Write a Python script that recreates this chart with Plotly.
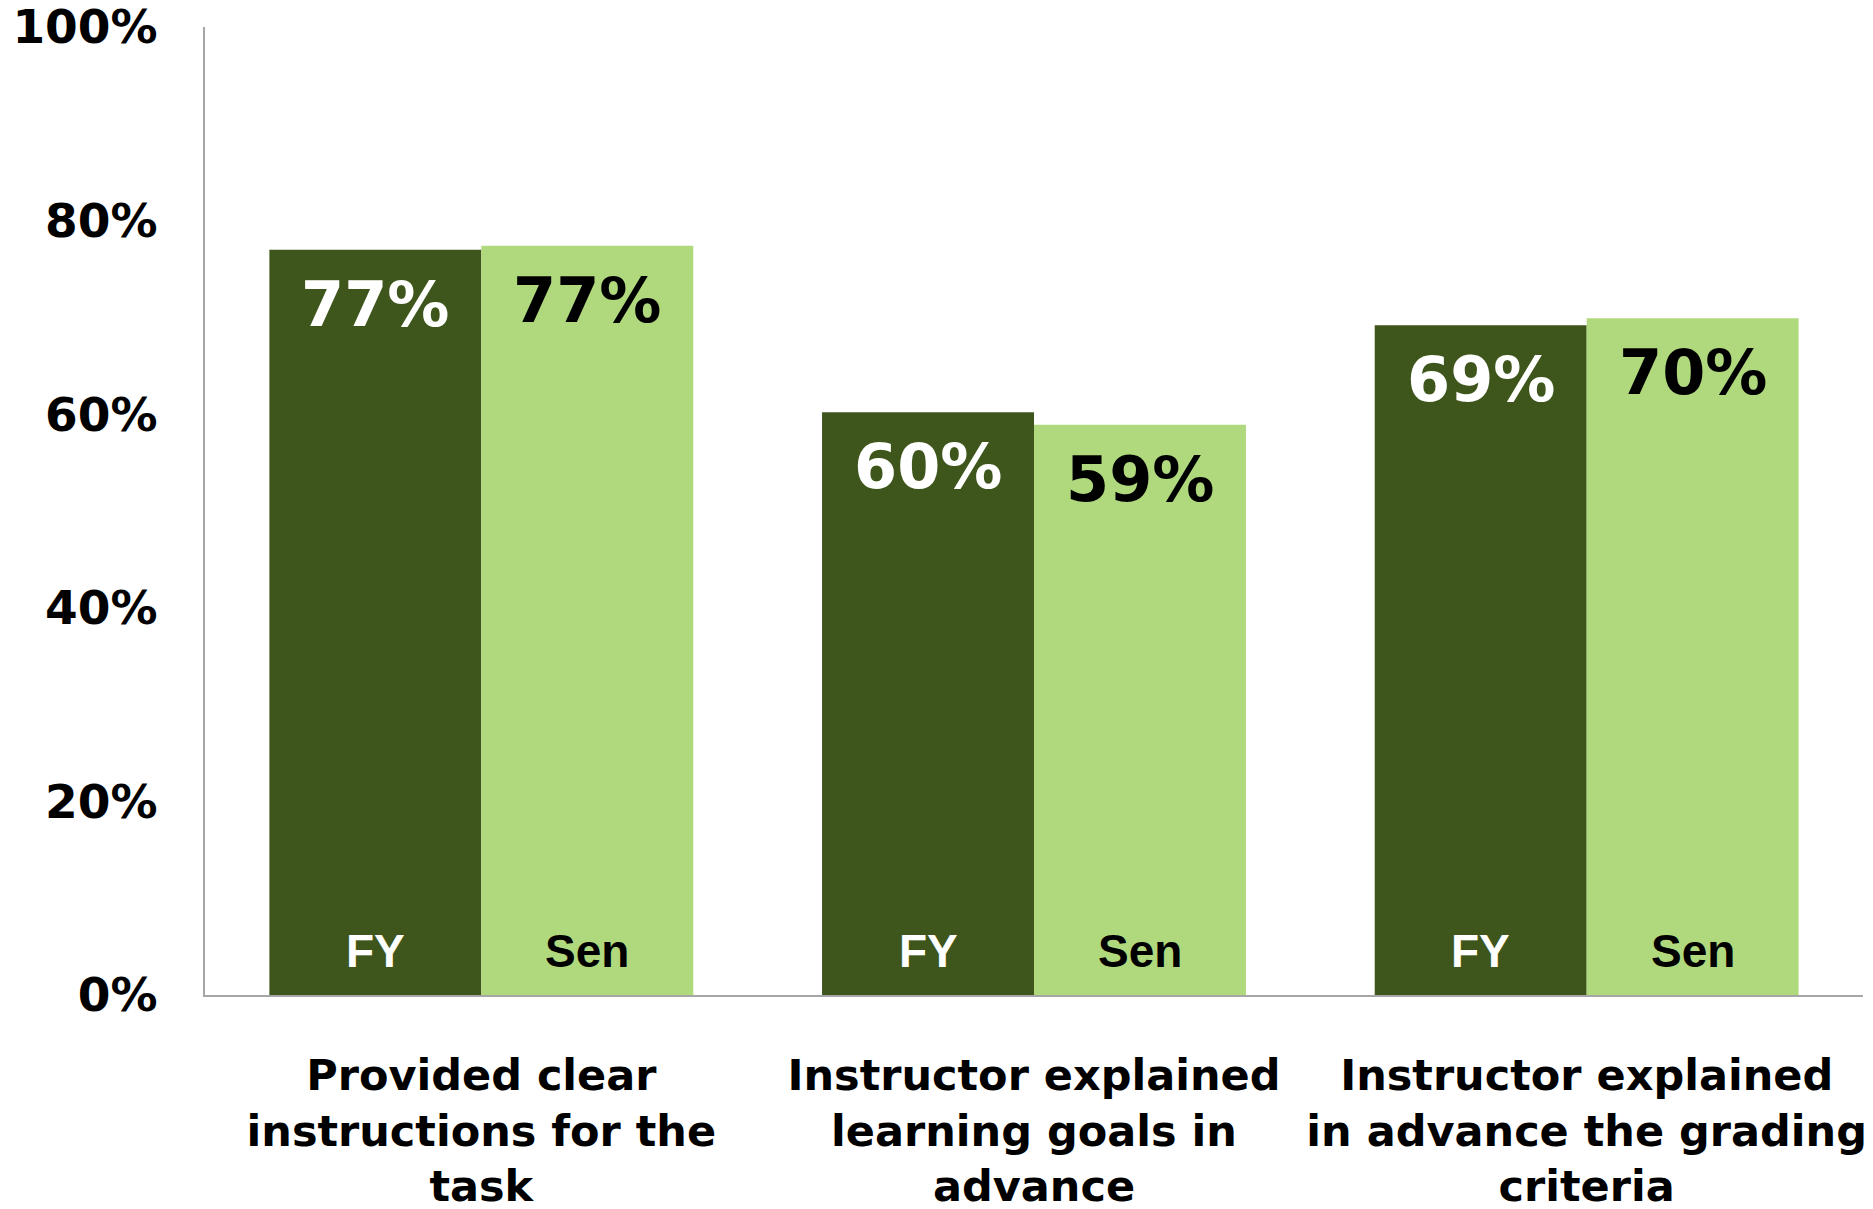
import plotly.graph_objects as go

# chart data
categories = [
    "Provided clear<br>instructions for the<br>task",
    "Instructor explained<br>learning goals in<br>advance",
    "Instructor explained<br>in advance the grading<br>criteria",
]
series_names = ["FY", "Sen"]
fy_values = [0.770, 0.602, 0.692]
sen_values = [0.774, 0.589, 0.699]
y_ticks = [0, 0.2, 0.4, 0.6, 0.8, 1.0]
y_tick_labels = ["0%", "20%", "40%", "60%", "80%", "100%"]

DARK = "#3E561B"
LIGHT = "#B0D97E"
AXIS = "#A6A6A6"
BARGAP = 0.233

fig = go.Figure()
fig.add_trace(go.Bar(x=categories, y=fy_values, name=series_names[0],
                     marker=dict(color=DARK, line=dict(width=0))))
fig.add_trace(go.Bar(x=categories, y=sen_values, name=series_names[1],
                     marker=dict(color=LIGHT, line=dict(width=0))))

# offsets of the two bars within each category (in category units)
half = (1 - BARGAP) / 4
series = [(fy_values, series_names[0], -half, "white"),
          (sen_values, series_names[1], half, "black")]

for vals, name, off, col in series:
    for i, v in enumerate(vals):
        # value label near bar top
        fig.add_annotation(x=i + off, y=v, text=f"{round(v * 100)}%",
                           showarrow=False, yanchor="top", yshift=-16,
                           font=dict(family="DejaVu Sans", size=62, color=col,
                                     weight="bold"))
        # series label near bar base
        fig.add_annotation(x=i + off, y=0, text=name,
                           showarrow=False, yanchor="bottom", yshift=16,
                           font=dict(family="Liberation Sans, Arial", size=46,
                                     color=col, weight="bold"))

# page body has an 8px margin, so the figure is sized to fit the window
fig.update_layout(
    width=1865, height=1201,
    margin=dict(l=197, r=10, t=19, b=214),
    paper_bgcolor="white", plot_bgcolor="white",
    barmode="group", bargap=BARGAP, bargroupgap=0,
    showlegend=False,
)
fig.update_xaxes(
    automargin=False,
    showline=True, linecolor=AXIS, linewidth=2, showgrid=False,
    ticks="outside", ticklen=0, ticklabelstandoff=41,
    tickfont=dict(family="DejaVu Sans", size=43, color="black", weight="bold"),
    tickangle=0,
)
fig.update_yaxes(
    automargin=False, ticklabeloverflow="allow",
    range=[0, 1], showline=True, linecolor=AXIS, linewidth=2,
    showgrid=False, zeroline=False,
    tickvals=y_ticks, ticktext=y_tick_labels,
    ticks="outside", ticklen=0, ticklabelstandoff=36,
    tickfont=dict(family="DejaVu Sans", size=47, color="black", weight="bold"),
)

fig.write_html("out.html")
